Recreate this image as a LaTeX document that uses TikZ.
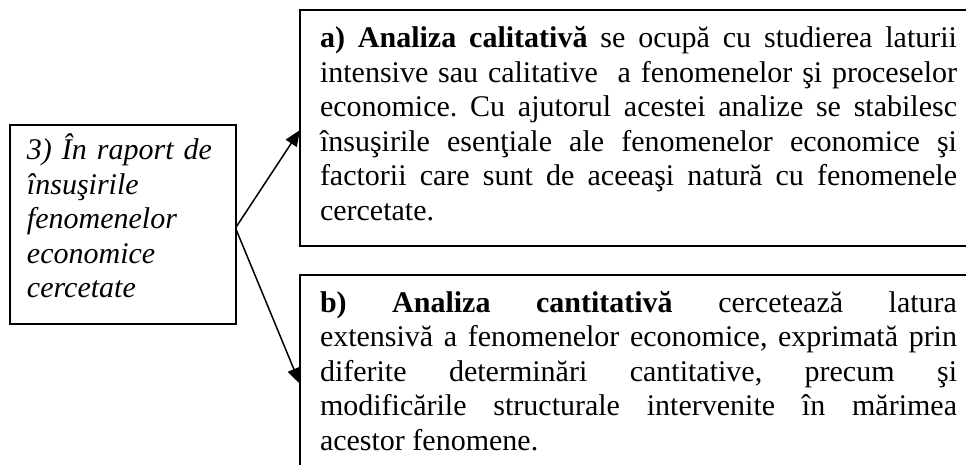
\documentclass[tikz,border=0pt]{standalone}
\usepackage{fontspec}
\setmainfont{Liberation Serif}
\usetikzlibrary{arrows.meta}
\frenchspacing
\begin{document}
\begin{tikzpicture}[x=1pt,y=1pt,
  box/.style={draw=black, line width=2pt, outer sep=0pt, inner sep=0pt, rectangle, anchor=north west},
  txt/.style={inner sep=0pt, outer sep=0pt, anchor=base west, font=\fontsize{30}{34.5}\selectfont\frenchspacing},
  conn/.style={line width=1.5pt, -{Triangle[length=16pt,width=13pt]}}
]
\useasboundingbox (0,0) rectangle (966,464);
\clip (0,0) rectangle (966,464);
\fill[white] (0,0) rectangle (966,464);
% boxes
\node[box, minimum width=225.5pt, minimum height=199pt] (L) at (10,339) {};
\node[box, minimum width=720pt, minimum height=236pt] (A) at (300,454) {};
\node[box, minimum width=720pt, minimum height=215pt] (B) at (300,189) {};
% texts
\node[txt, text width=205pt, align=left] (Lt) at (27,304)
  {\itshape 3) În raport de\\ însuşirile\\ fenomenelor\\ economice\\ cercetate};
\node[txt, text width=637pt, align=justify] (At) at (320,416)
  {\textbf{a) Analiza calitativă} se ocupă cu studierea laturii\linebreak
   intensive sau calitative\ \ a fenomenelor şi proceselor\linebreak
   economice. Cu ajutorul acestei analize se stabilesc\linebreak
   însuşirile esenţiale ale fenomenelor economice şi\linebreak
   factorii care sunt de aceeaşi natură cu fenomenele\linebreak
   cercetate.};
\node[txt, text width=637pt, align=justify] (Bt) at (320,152)
  {\textbf{b) Analiza cantitativă} cercetează latura\linebreak
   extensivă a fenomenelor economice, exprimată prin\linebreak
   diferite determinări cantitative, precum şi\linebreak
   modificările structurale intervenite în mărimea\linebreak
   acestor fenomene.};
% connectors
\draw[conn] ([yshift=-3.5pt]L.east) -- ([yshift=-120pt]A.north west);
\draw[conn] ([yshift=-3.5pt]L.east) -- ([yshift=-109pt]B.north west);
\end{tikzpicture}
\end{document}
